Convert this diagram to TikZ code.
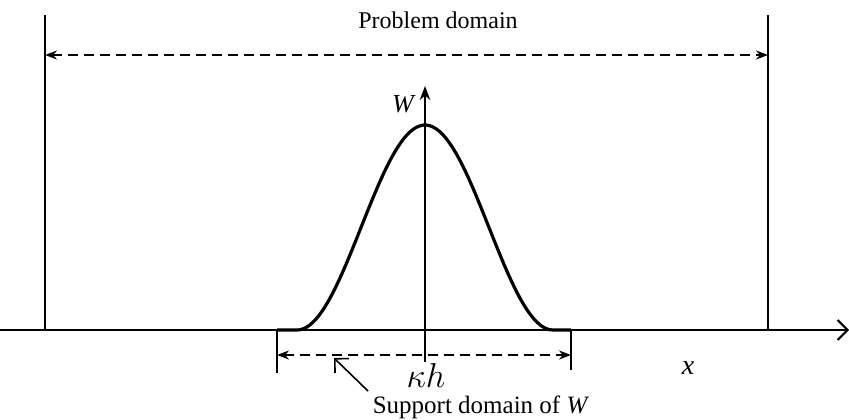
\documentclass[tikz,border=0pt]{standalone}
\usepackage{fontspec}
\setmainfont{Liberation Serif}
\usepackage{amsmath}
\usetikzlibrary{arrows.meta}

\begin{document}
\begin{tikzpicture}[x=0.5pt, y=-0.5pt,
    dimline/.style={line width=0.9pt, dash pattern=on 5pt off 3pt, {Stealth[length=6pt]}-{Stealth[length=6pt]}},
    bound/.style={line width=0.7pt}]
    \useasboundingbox (0,0) rectangle (849,419);

    % Define coordinates
    \coordinate (LT) at (45,15);
    \coordinate (LB) at (45,330);
    \coordinate (RT) at (768,15);
    \coordinate (RB) at (768,330);
    \coordinate (PL) at (45,55);
    \coordinate (PR) at (768,55);
    \coordinate (XW) at (0,330);
    \coordinate (XE) at (849,330);
    \coordinate (WB) at (425,362);
    \coordinate (WT) at (425,86);
    \coordinate (SL) at (277,330);
    \coordinate (SLB) at (277,373);
    \coordinate (SR) at (571,330);
    \coordinate (SRB) at (571,370);
    \coordinate (DL) at (277,355);
    \coordinate (DR) at (571,355);
    \coordinate (tail) at (368,391);
    \coordinate (head) at (334,358);

    % Problem domain boundaries
    \draw[bound] (LT) -- (LB);
    \draw[bound] (RT) -- (RB);
    \draw[dimline] (PL) -- (PR);
    \node[font=\fontsize{12}{14}\selectfont] (prob) at (438,20) {Problem domain};

    % Axes
    \draw[line width=1pt, -{Straight Barb[length=5pt]}] (XW) -- (XE);
    \draw[line width=0.8pt, -{Stealth[length=7pt]}] (WB) -- (WT);
    \node[font=\fontsize{13}{15}\selectfont] (wlab) at (404,104) {\textit{W}};
    \node[font=\fontsize{14}{16}\selectfont] (xlab) at (688,368) {\textit{x}};

    % Weight function
    \draw[line width=1.6pt] (SL) -- (297,330)
        plot[domain=-128:128, samples=80] ({425+\x},{330-102.5*(1+cos(1.40625*\x))})
        -- (SR);

    % Support domain
    \draw[line width=0.9pt] (SL) -- (SLB);
    \draw[line width=0.9pt] (SR) -- (SRB);
    \draw[dimline] (DL) -- (DR);
    \node[font=\fontsize{16}{18}\selectfont, inner sep=0.5pt, anchor=base] (kh) at (426,387) {$\kappa h$};
    \node[font=\fontsize{12.5}{15}\selectfont, inner sep=0.5pt, anchor=base] (supp) at (481,413) {Support domain of \textit{W}};
    \draw[line width=0.8pt, -{Straight Barb[length=5pt]}] (tail) -- (head);
\end{tikzpicture}
\end{document}
